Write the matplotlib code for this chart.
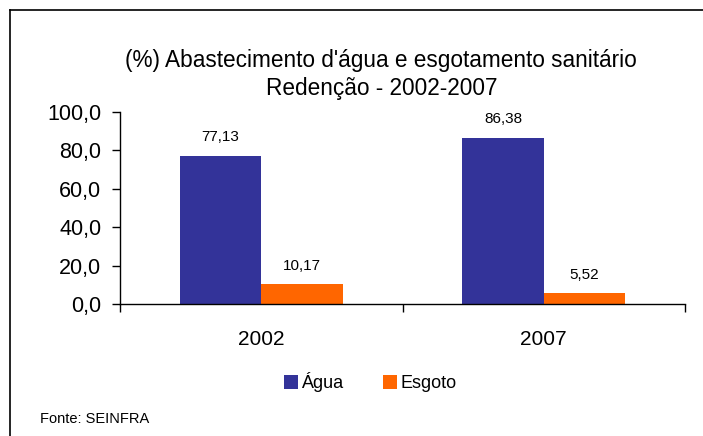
import numpy as np
import matplotlib
matplotlib.use("Agg")
import matplotlib.pyplot as plt
from matplotlib.lines import Line2D

# dados
anos = ["2002", "2007"]
agua = [77.13, 86.38]
esgoto = [10.17, 5.52]
series = ["Água", "Esgoto"]
cores = ["#333399", "#FF6600"]

plt.rcParams["font.family"] = ["Liberation Sans", "DejaVu Sans"]

W, H = 703, 436
fig = plt.figure(figsize=(W / 100, H / 100), dpi=100)
ax = fig.add_axes([120 / W, 1 - 304 / H, (685 - 120) / W, (304 - 112) / H])

x = np.arange(len(anos))
largura = 0.288
b1 = ax.bar(x - largura / 2, agua, largura, color=cores[0], label=series[0])
b2 = ax.bar(x + largura / 2, esgoto, largura, color=cores[1], label=series[1])

# rótulos dos valores
for barras in (b1, b2):
    for b in barras:
        h = b.get_height()
        ax.annotate(f"{h:.2f}".replace(".", ","),
                    xy=(b.get_x() + b.get_width() / 2, h),
                    xytext=(0, 8.5), textcoords="offset points",
                    ha="center", va="bottom", fontsize=11)

ax.set_xlim(-0.5, len(anos) - 0.5)
ax.set_ylim(0, 100)
ax.set_yticks(np.arange(0, 101, 20))
ax.set_yticklabels([f"{v:.1f}".replace(".", ",") for v in np.arange(0, 101, 20)],
                   fontsize=15.5)
ax.tick_params(axis="y", direction="out", length=6, width=1, pad=7.5)

# rótulos das categorias sem marca, marcas nos limites
ax.set_xticks(x)
ax.set_xticklabels(anos, fontsize=15)
ax.tick_params(axis="x", which="major", length=0, pad=19)
ax.set_xticks(np.arange(-0.5, len(anos), 1), minor=True)
ax.tick_params(axis="x", which="minor", direction="out", length=6, width=1)

for s in ("top", "right"):
    ax.spines[s].set_visible(False)
for s in ("left", "bottom"):
    ax.spines[s].set_linewidth(1)

# título
fig.text(381 / W, 1 - 60 / H, "(%) Abastecimento d'água e esgotamento sanitário",
         ha="center", va="center", fontsize=16.3)
fig.text(382 / W, 1 - 88 / H, "Redenção - 2002-2007",
         ha="center", va="center", fontsize=16.3)

# legenda
leg = fig.legend(handles=[b1, b2], labels=series, loc="center",
                 bbox_to_anchor=(370 / W, 1 - 382 / H), ncol=2, frameon=False,
                 fontsize=13, handlelength=0.8, handleheight=0.8,
                 handletextpad=0.15, columnspacing=2.2)

fig.text(40 / W, 1 - 419 / H, "Fonte: SEINFRA", ha="left", va="center",
         fontsize=10.5)

# moldura (apenas esquerda e topo visíveis)
fig.add_artist(Line2D([10 / W, 10 / W], [0, 1 - 10 / H], color="black", lw=1.2,
                      transform=fig.transFigure))
fig.add_artist(Line2D([10 / W, 1], [1 - 10 / H, 1 - 10 / H], color="black", lw=1.2,
                      transform=fig.transFigure))

fig.savefig("out.png", dpi=100)
